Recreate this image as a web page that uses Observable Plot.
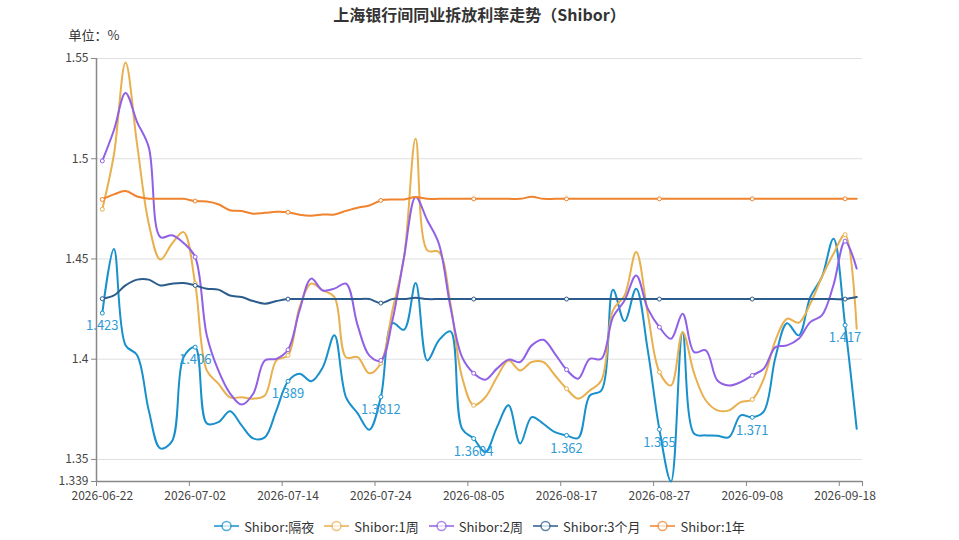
<!DOCTYPE html>
<html><head><meta charset="utf-8">
<script src="https://cdn.jsdelivr.net/npm/d3@7"></script>
<script src="https://cdn.jsdelivr.net/npm/@observablehq/plot@0.6"></script>
<style>
body{margin:0;background:#fff;font-family:"Microsoft YaHei","Noto Sans CJK SC","Noto Sans",sans-serif;}
#wrap{width:959px;height:540px;position:relative;overflow:hidden;background:#fff}
#title{height:24px;line-height:28px;text-align:center;font-size:16px;font-weight:bold;color:#333}
#chart svg{display:block}
#legend{height:30px;display:flex;justify-content:center;align-items:center;font-size:13px;color:#333;padding-top:2px;box-sizing:border-box}
.li{display:flex;align-items:center;margin:0 5px}
.li svg{margin-right:5px}
</style></head>
<body>
<div id="wrap"><div id="title">上海银行间同业拆放利率走势（Shibor）</div><div id="chart"></div><div id="legend"></div></div>
<script>
const dates = ["2026-06-22","2026-06-23","2026-06-24","2026-06-25","2026-06-26","2026-06-29","2026-06-30",
"2026-07-01","2026-07-02","2026-07-03","2026-07-06","2026-07-07","2026-07-08","2026-07-09","2026-07-10","2026-07-13","2026-07-14","2026-07-15","2026-07-16","2026-07-17","2026-07-20","2026-07-21","2026-07-22","2026-07-23","2026-07-24","2026-07-27","2026-07-28","2026-07-29","2026-07-30","2026-07-31",
"2026-08-03","2026-08-04","2026-08-05","2026-08-06","2026-08-07","2026-08-10","2026-08-11","2026-08-12","2026-08-13","2026-08-14","2026-08-17","2026-08-18","2026-08-19","2026-08-20","2026-08-21","2026-08-24","2026-08-25","2026-08-26","2026-08-27","2026-08-28","2026-08-31",
"2026-09-01","2026-09-02","2026-09-03","2026-09-04","2026-09-07","2026-09-08","2026-09-09","2026-09-10","2026-09-11","2026-09-14","2026-09-15","2026-09-16","2026-09-17","2026-09-18","2026-09-21"];

const seriesNames = ["Shibor:隔夜","Shibor:1周","Shibor:2周","Shibor:3个月","Shibor:1年"];
const seriesColors = ["#1890cc","#e8b04e","#9060e6","#2b5c8c","#f0832e"];

const overnight = [1.423,1.455,1.407,1.402,1.3745,1.3555,1.359,1.401,1.406,1.368,1.3686,1.374,1.367,1.3605,1.361,1.3745,1.389,1.3928,1.389,1.396,1.412,1.381,1.373,1.3648,1.3812,1.418,1.4147,1.438,1.3994,1.4094,1.4139,1.3653,1.3604,1.3537,1.366,1.377,1.358,1.3711,1.3678,1.3636,1.362,1.3607,1.3819,1.3844,1.4347,1.419,1.4352,1.4044,1.365,1.339,1.4135,1.3628,1.362,1.3618,1.3611,1.372,1.371,1.374,1.401,1.4179,1.4119,1.431,1.441,1.4601,1.417,1.3653];
const week1 = [1.4748,1.502,1.548,1.507,1.4677,1.4497,1.4576,1.4634,1.4378,1.3944,1.3878,1.381,1.381,1.3803,1.3819,1.3994,1.4019,1.426,1.4377,1.4343,1.431,1.401,1.401,1.393,1.398,1.4244,1.451,1.51,1.4543,1.4535,1.4277,1.391,1.377,1.381,1.391,1.3994,1.3944,1.3986,1.3986,1.392,1.3853,1.3803,1.3844,1.3894,1.4244,1.4318,1.4535,1.4227,1.3936,1.3869,1.4135,1.3928,1.3794,1.3745,1.3745,1.3786,1.3799,1.3903,1.4094,1.4202,1.4182,1.4277,1.441,1.4526,1.4621,1.4152];
const week2 = [1.4989,1.5142,1.5328,1.5183,1.5058,1.4609,1.4618,1.458,1.451,1.412,1.3944,1.383,1.3774,1.3828,1.3994,1.4002,1.4047,1.4244,1.4402,1.4343,1.4352,1.4377,1.4169,1.4019,1.3994,1.4194,1.451,1.4809,1.4693,1.4576,1.426,1.401,1.393,1.3898,1.3953,1.3998,1.3986,1.4069,1.4097,1.4027,1.3948,1.3903,1.4002,1.4002,1.421,1.4293,1.4418,1.4252,1.416,1.4102,1.4227,1.4035,1.4044,1.3894,1.3869,1.3886,1.3919,1.3953,1.406,1.4069,1.4102,1.4185,1.4219,1.437,1.4589,1.4452];
const month3 = [1.4302,1.4318,1.4368,1.4397,1.4397,1.4368,1.4377,1.438,1.4368,1.4352,1.4347,1.4318,1.431,1.429,1.4277,1.429,1.43,1.43,1.43,1.43,1.43,1.43,1.43,1.43,1.428,1.43,1.43,1.4306,1.43,1.43,1.43,1.43,1.43,1.43,1.43,1.43,1.43,1.43,1.43,1.43,1.43,1.43,1.43,1.43,1.43,1.43,1.43,1.43,1.43,1.43,1.43,1.43,1.43,1.43,1.43,1.43,1.43,1.43,1.43,1.43,1.43,1.43,1.43,1.43,1.43,1.431];
const year1 = [1.4797,1.4822,1.4839,1.4812,1.4801,1.48,1.48,1.48,1.4789,1.4787,1.4773,1.4743,1.4739,1.4726,1.473,1.4735,1.4733,1.4721,1.4716,1.4722,1.4722,1.474,1.4756,1.4767,1.4792,1.4797,1.4797,1.4809,1.48,1.48,1.48,1.48,1.48,1.48,1.48,1.48,1.48,1.481,1.48,1.48,1.48,1.48,1.48,1.48,1.48,1.48,1.48,1.48,1.48,1.48,1.48,1.48,1.48,1.48,1.48,1.48,1.48,1.48,1.48,1.48,1.48,1.48,1.48,1.48,1.48,1.48];

const yTicks = [1.339,1.35,1.4,1.45,1.5,1.55];
const gridTicks = [1.35,1.4,1.45,1.5,1.55];
const labelStep = 8;
const unitLabel = "单位：%";

const allSeries = [overnight, week1, week2, month3, year1];
const rows = [];
allSeries.forEach((vals, s) => vals.forEach((v, i) => rows.push({series: seriesNames[s], i, v})));
const marked = rows.filter(d => d.i % labelStep === 0);
const labelIdx = dates.map((d, i) => i).filter(i => i % labelStep === 0);
const tickBounds = labelIdx.map(i => i - 0.5).concat([dates.length - 0.5]);

const chart = Plot.plot({
  width: 959, height: 486,
  marginLeft: 96, marginRight: 97, marginTop: 34, marginBottom: 29,
  style: {fontFamily: '"Microsoft YaHei","Noto Sans CJK SC","Noto Sans",sans-serif', background: "#fff"},
  x: {type: "linear", domain: [-0.5, dates.length - 0.5]},
  y: {domain: [1.339, 1.55]},
  color: {domain: seriesNames, range: seriesColors},
  marks: [
    Plot.gridY(gridTicks, {stroke: "#e0e0e0", strokeOpacity: 1}),
    Plot.axisY(yTicks, {tickSize: 5, tickPadding: 3, tickFormat: d => String(d), stroke: "#888", fill: "#444", fontSize: 12, label: null}),
    Plot.axisX(tickBounds, {tickSize: 5, tickFormat: () => "", stroke: "#888", label: null}),
    Plot.axisX(labelIdx, {tickSize: 0, tickPadding: 8, dy: 2, tickFormat: i => dates[i], fill: "#444", fontSize: 12, label: null}),
    Plot.ruleX([-0.5], {stroke: "#888", strokeWidth: 1.5}),
    Plot.ruleY([1.339], {stroke: "#888", strokeWidth: 1.5}),
    Plot.line(rows, {x: "i", y: "v", z: "series", stroke: "series", strokeWidth: 2, curve: "catmull-rom"}),
    Plot.dot(marked, {x: "i", y: "v", stroke: "series", fill: "white", r: 2, strokeWidth: 1}),
    Plot.text(marked.filter(d => d.series === seriesNames[0]), {x: "i", y: "v", text: d => String(d.v), dy: 13, fill: "#2e9bd6", fontSize: 13}),
    Plot.text([unitLabel], {frameAnchor: "top-left", dx: -28, dy: -28, textAnchor: "start", fill: "#333", fontSize: 13})
  ]
});
document.getElementById("chart").appendChild(chart);

const legend = document.getElementById("legend");
seriesNames.forEach((name, k) => {
  const item = document.createElement("div");
  item.className = "li";
  item.innerHTML = `<svg width="25" height="14"><line x1="0" y1="7" x2="25" y2="7" stroke="${seriesColors[k]}" stroke-width="2" opacity="0.75"/><circle cx="12.5" cy="7" r="4.5" fill="#fff" stroke="${seriesColors[k]}" stroke-width="1.5" opacity="0.75"/></svg><span>${name}</span>`;
  legend.appendChild(item);
});
</script>
</body></html>
